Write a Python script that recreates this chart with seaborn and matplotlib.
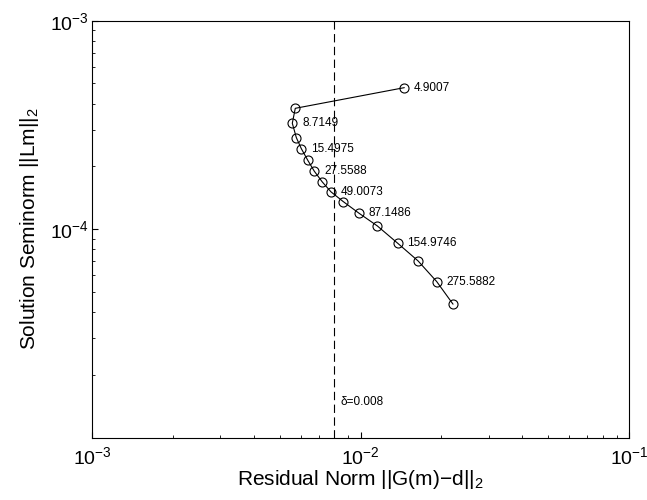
import numpy as np
import pandas as pd
import matplotlib
matplotlib.use('Agg')
import matplotlib.pyplot as plt
import seaborn as sns

# L-curve points (residual norm, solution seminorm)
residual = [0.01456, 0.005716, 0.005572, 0.005768, 0.006020, 0.006360, 0.006729, 0.007206,
            0.007766, 0.008627, 0.009872, 0.01155, 0.01375, 0.01638, 0.01922, 0.02211]
seminorm = [4.774e-4, 3.80e-4, 3.222e-4, 2.749e-4, 2.434e-4, 2.142e-4, 1.897e-4, 1.685e-4,
            1.510e-4, 1.356e-4, 1.193e-4, 1.037e-4, 8.568e-5, 7.047e-5, 5.609e-5, 4.369e-5]
alpha_labels = ['4.9007', '', '8.7149', '', '15.4975', '', '27.5588', '', '49.0073', '',
                '87.1486', '', '154.9746', '', '275.5882', '']
delta = 0.008
delta_label_y = 1.48e-5

df = pd.DataFrame({'residual': residual, 'seminorm': seminorm, 'alpha': alpha_labels})

sns.set_style('ticks')
plt.rcParams['font.family'] = ['Liberation Sans', 'DejaVu Sans']
plt.rcParams['mathtext.fontset'] = 'custom'
plt.rcParams['mathtext.rm'] = 'Liberation Sans'
plt.rcParams['mathtext.it'] = 'Liberation Sans:italic'
plt.rcParams['mathtext.bf'] = 'Liberation Sans:bold'
plt.rcParams['mathtext.sf'] = 'Liberation Sans'
for key in ['axes.edgecolor', 'text.color', 'axes.labelcolor', 'xtick.color', 'ytick.color']:
    plt.rcParams[key] = 'black'
plt.rcParams['axes.linewidth'] = 0.8

fig, ax = plt.subplots(figsize=(6.47, 5), dpi=100)
fig.subplots_adjust(left=92/647, right=629/647, bottom=62.3/500, top=1-20.7/500)

ax.set_xscale('log')
ax.set_yscale('log')

sns.lineplot(data=df, x='residual', y='seminorm', sort=False, estimator=None,
             color='black', lw=0.8, marker='o', markersize=6.5,
             markerfacecolor='none', markeredgecolor='black', markeredgewidth=0.8, ax=ax)

ax.axvline(delta, color='black', lw=0.8, ls=(0, (7.5, 4)))

for _, row in df.iterrows():
    if row['alpha']:
        ax.annotate(row['alpha'], (row['residual'], row['seminorm']), xytext=(7, 0),
                    textcoords='offset points', ha='left', va='center', fontsize=8.5)

ax.annotate(f'δ={delta}', (delta, delta_label_y), xytext=(4, 0),
            textcoords='offset points', ha='left', va='center', fontsize=8.5)

ax.set_xlim(1e-3, 1e-1)
ax.set_ylim(1e-5, 1e-3)
ax.set_yticks([1e-4, 1e-3])

ax.tick_params(which='both', direction='in', top=False, right=False, labelsize=14)
ax.tick_params(axis='x', which='major', length=4.5, width=0.8, pad=6)
ax.tick_params(axis='y', which='major', length=4.5, width=0.8, pad=2.5)
ax.tick_params(which='minor', length=2.3, width=0.6)

ax.set_xlabel('Residual Norm ||G(m)\u2212d||$_2$', fontsize=15, labelpad=0)
ax.set_ylabel('Solution Seminorm ||Lm||$_2$', fontsize=15, labelpad=6)

plt.savefig('out.png', dpi=100)
